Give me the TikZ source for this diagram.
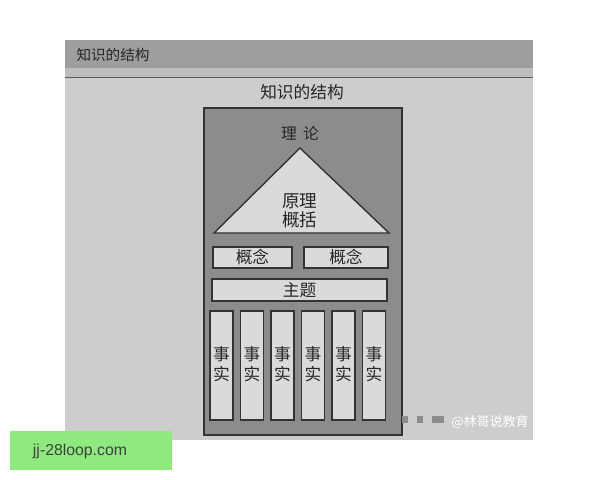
\documentclass[tikz,border=0pt]{standalone}
\usepackage{fontspec}
\setsansfont{Liberation Sans}
\newfontfamily\cjk{Noto Sans CJK SC}
\definecolor{pagegray}{HTML}{CDCDCD}
\definecolor{headgray}{HTML}{9E9E9E}
\definecolor{stripgray}{HTML}{BDBDBD}
\definecolor{framegray}{HTML}{8C8C8C}
\definecolor{boxgray}{HTML}{DADADA}
\definecolor{linkgreen}{HTML}{8EE97E}

\begin{document}
\begin{tikzpicture}[x=0.02cm, y=-0.02cm,
  label/.style={font=\cjk\fontsize{9.5}{11}\selectfont, text=black!85, inner sep=0pt},
  part/.style={draw=black!80, fill=boxgray, line width=0.8pt}]
\useasboundingbox (0,0) rectangle (600,480);
\fill[white] (0,0) rectangle (600,480);
% page of the book
\fill[pagegray] (65,40) rectangle (533,440);
\fill[headgray] (65,40) rectangle (533,68);
\fill[stripgray] (65,68) rectangle (533,77);
\draw[black!65] (65,77) -- (533,77);
\node[label, font=\cjk\fontsize{8.3}{10}\selectfont] (head) at (113,55) {知识的结构};
\node[label] (title) at (302,92) {知识的结构};
% frame
\coordinate (A) at (204,108);
\coordinate (B) at (402,435);
\draw[fill=framegray, line width=0.8pt, draw=black!80] (A) rectangle (B);
\node[label, font=\cjk\fontsize{9}{11}\selectfont] (theory) at (300,133) {理\hspace{0.4em}论};
% triangle
\coordinate (T) at (300,148);
\coordinate (L) at (214,233);
\coordinate (R) at (389,233);
\draw[part] (T) -- (L) -- (R) -- cycle;
\node[label, align=center, font=\cjk\fontsize{10}{11}\selectfont] (principle) at (300,211) {原理\\概括};
% concepts and topic
\draw[part] (213,247) rectangle (292,268);
\node[label] (concept1) at (252.5,257.5) {概念};
\draw[part] (304,247) rectangle (388,268);
\node[label] (concept2) at (346,257.5) {概念};
\draw[part] (212,279) rectangle (387,301);
\node[label] (topic) at (299.5,290) {主题};
% facts
\draw[part] (210,311) rectangle (233,420);
\node[label, align=center] (fact1) at (221.5,364) {事\\实};
\draw[part] (240.5,311) rectangle (263.5,420);
\node[label, align=center] (fact2) at (252,364) {事\\实};
\draw[part] (271,311) rectangle (294,420);
\node[label, align=center] (fact3) at (282.5,364) {事\\实};
\draw[part] (301.5,311) rectangle (324.5,420);
\node[label, align=center] (fact4) at (313,364) {事\\实};
\draw[part] (332,311) rectangle (355,420);
\node[label, align=center] (fact5) at (343.5,364) {事\\实};
\draw[part] (362.5,311) rectangle (385.5,420);
\node[label, align=center] (fact6) at (374,364) {事\\实};
% watermark
\fill[black!45] (402,416) rectangle (408,423);
\fill[black!45] (417,416) rectangle (423,423);
\fill[black!45] (432,416) rectangle (444,423);
\node[font=\cjk\fontsize{7.4}{9}\selectfont, text=white, inner sep=0pt] (mark) at (490,422) {@林哥说教育};
% link box
\fill[linkgreen] (10,431) rectangle (172,470);
\node[font=\sffamily\fontsize{9}{11}\selectfont, text=black!75, inner sep=0pt] (link) at (80,451) {jj-28loop.com};
\end{tikzpicture}
\end{document}
